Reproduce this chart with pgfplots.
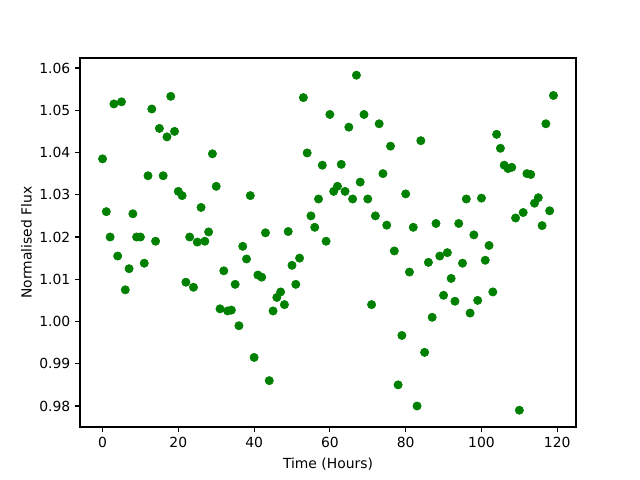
\documentclass[border=0pt]{standalone}
\usepackage{fontspec}
\setmainfont{DejaVu Sans}
\usepackage{pgfplots}
\pgfplotsset{compat=1.18}
\definecolor{mplgreen}{HTML}{008000}
\begin{document}
\begin{tikzpicture}
\path (-57.6pt,-38.16pt) rectangle (403.2pt,307.44pt);
\begin{axis}[
  at={(0pt,0pt)}, anchor=south west,
  scale only axis, width=357.12pt, height=265.68pt,
  xmin=-5.95, xmax=124.95, ymin=0.97503, ymax=1.06237,
  xtick={0,20,40,60,80,100,120},
  ytick={0.98,0.99,1.00,1.01,1.02,1.03,1.04,1.05,1.06},
  yticklabel style={/pgf/number format/.cd,fixed,fixed zerofill,precision=2},
  /pgf/number format/assume math mode=true,
  tick align=outside, tick pos=left,
  major tick length=3.5pt,
  every tick/.style={black, line width=0.8pt},
  axis line style={line width=0.8pt},
  tick label style={font=\fontsize{10}{12}\selectfont},
  label style={font=\fontsize{10}{12}\selectfont},
  xlabel={Time (Hours)}, ylabel={Normalised Flux},
  xlabel style={yshift=-1pt},
  ylabel style={yshift=-1.5pt},
  clip=false,
]
\addplot[only marks, mark=*, mark size=3pt, color=mplgreen, mark options={fill=mplgreen, draw=mplgreen}] coordinates {
(0,1.0385)(1,1.026)(2,1.020)(3,1.0515)(4,1.0155)(5,1.052)(6,1.0075)(7,1.0125)(8,1.0255)(9,1.020)
(10,1.020)(11,1.0138)(12,1.0345)(13,1.0503)(14,1.019)(15,1.0457)(16,1.0345)(17,1.0437)(18,1.0533)(19,1.045)
(20,1.0308)(21,1.0298)(22,1.0093)(23,1.020)(24,1.0081)(25,1.0188)(26,1.027)(27,1.019)(28,1.0212)(29,1.0397)
(30,1.032)(31,1.003)(32,1.012)(33,1.0025)(34,1.0027)(35,1.0088)(36,0.999)(37,1.0178)(38,1.0148)(39,1.0298)
(40,0.9915)(41,1.011)(42,1.0105)(43,1.021)(44,0.986)(45,1.0025)(46,1.0057)(47,1.007)(48,1.004)(49,1.0213)
(50,1.0133)(51,1.0088)(52,1.015)(53,1.053)(54,1.0399)(55,1.025)(56,1.0223)(57,1.029)(58,1.037)(59,1.019)
(60,1.049)(61,1.0308)(62,1.032)(63,1.0372)(64,1.0308)(65,1.046)(66,1.029)(67,1.0583)(68,1.033)(69,1.049)
(70,1.029)(71,1.004)(72,1.025)(73,1.0468)(74,1.035)(75,1.0228)(76,1.0415)(77,1.0167)(78,0.985)(79,0.9967)
(80,1.0302)(81,1.0117)(82,1.0223)(83,0.980)(84,1.0428)(85,0.9927)(86,1.014)(87,1.001)(88,1.0232)(89,1.0155)
(90,1.0062)(91,1.0163)(92,1.0102)(93,1.0048)(94,1.0232)(95,1.0138)(96,1.029)(97,1.002)(98,1.0205)(99,1.005)
(100,1.0292)(101,1.0145)(102,1.018)(103,1.007)(104,1.0443)(105,1.041)(106,1.037)(107,1.0362)(108,1.0365)(109,1.0245)
(110,0.979)(111,1.0258)(112,1.035)(113,1.0348)(114,1.028)(115,1.0293)(116,1.0227)(117,1.0468)(118,1.0262)(119,1.0535)
};
\end{axis}
\end{tikzpicture}
\end{document}
